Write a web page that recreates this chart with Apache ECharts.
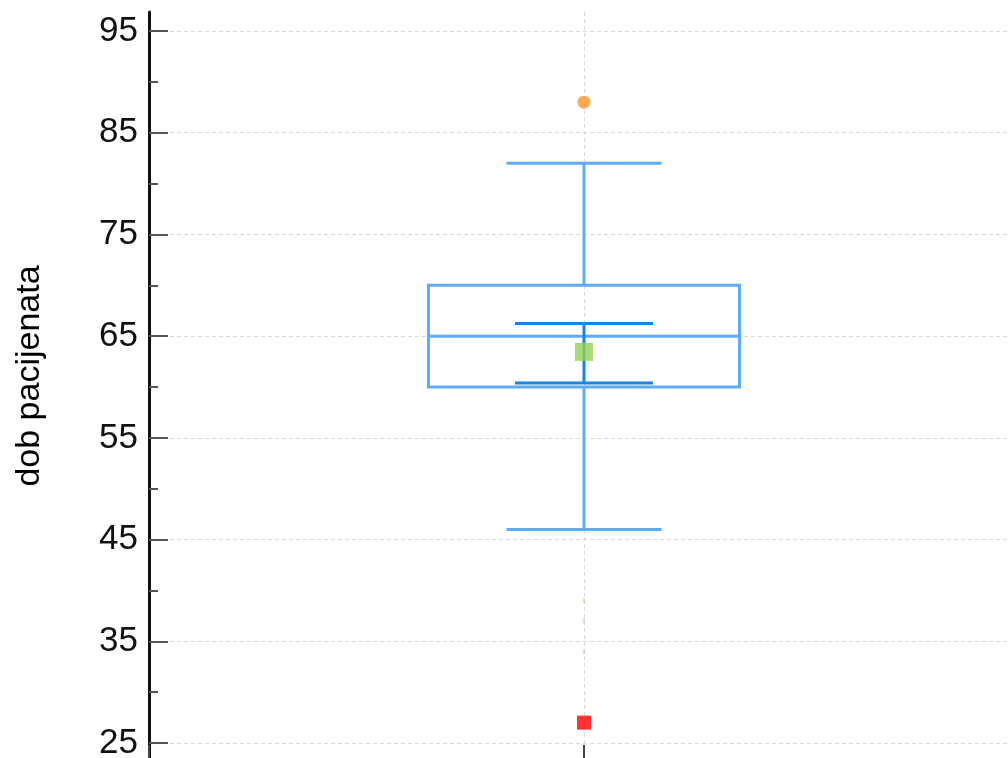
<!DOCTYPE html>
<html>
<head>
<meta charset="utf-8">
<script src="https://cdn.jsdelivr.net/npm/echarts@6/dist/echarts.min.js"></script>
<style>html,body{margin:0;padding:0;background:#fff}#c{width:1008px;height:758px}</style>
</head>
<body>
<div id="c"></div>
<script>
// ---- data ----
const yTitle = 'dob pacijenata';
const majorTicks = [25, 35, 45, 55, 65, 75, 85, 95];
const minorTicks = [30, 40, 50, 60, 70, 80, 90];
// box statistics: [whiskerLow, Q1, median, Q3, whiskerHigh]
const boxStats = [46, 60, 65, 70, 82];
const meanValue = 63.45;
const ciValues = [60.4, 66.25];
const outliersHigh = [88];
const farOutliersLow = [27];
const faintPoints = [39, 37, 34];
const categoryPos = 1;

const chart = echarts.init(document.getElementById('c'));
const yMin = 23.13, yMax = 96.87;

function boxItem(params, api) {
  const x = categoryPos;
  const c = v => api.coord([x, v]);
  const pLow = c(boxStats[0]), pQ1 = c(boxStats[1]), pMed = c(boxStats[2]), pQ3 = c(boxStats[3]), pHigh = c(boxStats[4]);
  const cx = pMed[0];
  const boxHalf = 155.5, capHalf = 77.5;
  const st = {stroke: '#5eaafd', lineWidth: 3, fill: null};
  return {
    type: 'group',
    children: [
      {type: 'line', shape: {x1: cx, y1: pHigh[1], x2: cx, y2: pQ3[1]}, style: st},
      {type: 'line', shape: {x1: cx, y1: pQ1[1], x2: cx, y2: pLow[1]}, style: st},
      {type: 'line', shape: {x1: cx - capHalf, y1: pHigh[1], x2: cx + capHalf, y2: pHigh[1]}, style: st},
      {type: 'line', shape: {x1: cx - capHalf, y1: pLow[1], x2: cx + capHalf, y2: pLow[1]}, style: st},
      {type: 'rect', shape: {x: cx - boxHalf, y: pQ3[1], width: boxHalf * 2, height: pQ1[1] - pQ3[1]}, style: {stroke: '#5eaafd', lineWidth: 3, fill: 'rgba(0,0,0,0)'}},
      {type: 'line', shape: {x1: cx - boxHalf, y1: pMed[1], x2: cx + boxHalf, y2: pMed[1]}, style: st}
    ]
  };
}

function ciItem(params, api) {
  const lo = api.coord([categoryPos, ciValues[0]]);
  const hi = api.coord([categoryPos, ciValues[1]]);
  const cx = lo[0];
  const half = 69;
  const st = {stroke: '#1583f0', lineWidth: 3};
  return {
    type: 'group',
    children: [
      {type: 'line', shape: {x1: cx, y1: hi[1], x2: cx, y2: lo[1]}, style: st},
      {type: 'line', shape: {x1: cx - half, y1: hi[1], x2: cx + half, y2: hi[1]}, style: st},
      {type: 'line', shape: {x1: cx - half, y1: lo[1], x2: cx + half, y2: lo[1]}, style: st}
    ]
  };
}

const option = {
  animation: false,
  backgroundColor: '#fff',
  grid: {left: 149, width: 870, top: 12, height: 750, containLabel: false, outerBoundsMode: 'none'},
  xAxis: {
    type: 'value', min: 0, max: 2, interval: 1,
    axisLine: {show: false},
    axisLabel: {show: false},
    axisTick: {show: true, inside: true, length: 17, lineStyle: {color: '#444', width: 2}},
    splitLine: {show: true, lineStyle: {color: '#d9d9d9', type: [4, 3], width: 1}}
  },
  yAxis: [{
    type: 'value', min: yMin, max: yMax,
    name: yTitle, nameLocation: 'middle', nameGap: 102,
    nameTextStyle: {fontFamily: 'Liberation Sans, Arial, sans-serif', fontSize: 34, color: '#000', padding: [0, 0, 0, 22]},
    axisLine: {show: true, lineStyle: {color: '#111', width: 3}},
    axisTick: {show: true, inside: true, length: 19, customValues: majorTicks, lineStyle: {color: '#555', width: 2}},
    axisLabel: {show: true, customValues: majorTicks, margin: 11, fontFamily: 'Liberation Sans, Arial, sans-serif', fontSize: 35, color: '#111'},
    splitLine: {show: true, lineStyle: {color: '#d9d9d9', type: [4, 3], width: 1}}
  }, {
    type: 'value', min: yMin, max: yMax, position: 'left', offset: 0,
    axisLine: {show: false},
    axisTick: {show: true, inside: true, length: 9, customValues: minorTicks, lineStyle: {color: '#555', width: 2}},
    axisLabel: {show: false},
    splitLine: {show: false}
  }],
  series: [
    {type: 'custom', renderItem: boxItem, data: [boxStats], z: 3, silent: true},
    {type: 'custom', renderItem: ciItem, data: [ciValues], z: 4, silent: true},
    {type: 'scatter', data: [[categoryPos, meanValue]], symbol: 'rect', symbolSize: 18, itemStyle: {color: '#92d050'}, z: 5, silent: true},
    {type: 'scatter', data: outliersHigh.map(v => [categoryPos, v]), symbol: 'circle', symbolSize: 13, itemStyle: {color: '#ff962c'}, z: 5, silent: true},
    {type: 'scatter', data: farOutliersLow.map(v => [categoryPos, v]), symbol: 'rect', symbolSize: 14, itemStyle: {color: '#ff0000'}, z: 5, silent: true},
    {type: 'scatter', data: faintPoints.map(v => [categoryPos, v]), symbol: 'rect', symbolSize: [1.5, 5], itemStyle: {color: '#ffb070', opacity: 0.7}, z: 5, silent: true}
  ]
};
chart.setOption(option);
</script>
</body>
</html>
